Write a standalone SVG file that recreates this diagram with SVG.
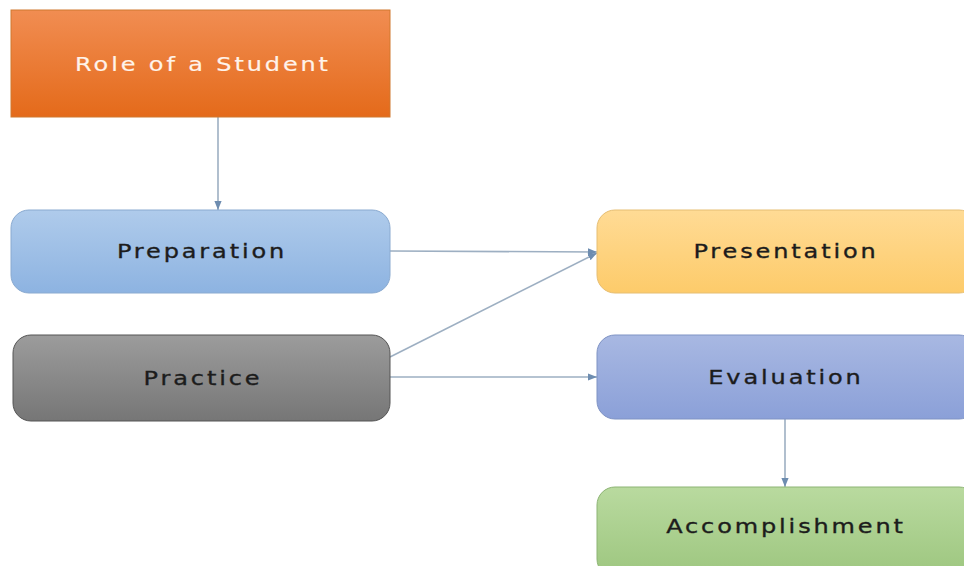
<svg xmlns="http://www.w3.org/2000/svg" width="964" height="566" viewBox="0 0 964 566">
<defs>
<linearGradient id="gOrange" x1="0" y1="0" x2="0" y2="1"><stop offset="0" stop-color="#F18D52"/><stop offset="1" stop-color="#E46A1A"/></linearGradient>
<linearGradient id="gBlue" x1="0" y1="0" x2="0" y2="1"><stop offset="0" stop-color="#AFCBEB"/><stop offset="1" stop-color="#8DB3E1"/></linearGradient>
<linearGradient id="gGray" x1="0" y1="0" x2="0" y2="1"><stop offset="0" stop-color="#9C9C9C"/><stop offset="1" stop-color="#767676"/></linearGradient>
<linearGradient id="gYellow" x1="0" y1="0" x2="0" y2="1"><stop offset="0" stop-color="#FFDB95"/><stop offset="1" stop-color="#FDCB6A"/></linearGradient>
<linearGradient id="gPurple" x1="0" y1="0" x2="0" y2="1"><stop offset="0" stop-color="#A8B8E2"/><stop offset="1" stop-color="#8BA0D8"/></linearGradient>
<linearGradient id="gGreen" x1="0" y1="0" x2="0" y2="1"><stop offset="0" stop-color="#B9DA9F"/><stop offset="1" stop-color="#9DC67F"/></linearGradient>
<marker id="arr" viewBox="0 0 10 10" refX="10" refY="5" markerWidth="9" markerHeight="9" markerUnits="userSpaceOnUse" orient="auto">
<path d="M0,1 L10,5 L0,9 z" fill="#6E8DB0"/>
</marker>
</defs>
<style>
.lbl{font-family:"DejaVu Sans",Verdana,sans-serif;font-size:20px;letter-spacing:2.4px;text-anchor:middle;dominant-baseline:central;fill:#1c1c1c;stroke:#1c1c1c;stroke-width:0.35}
.box{stroke-width:1}
.conn{fill:none;stroke:#9DAFC2;stroke-width:1.6}
</style>
<rect width="964" height="566" fill="#ffffff"/>
<g id="connectors">
<line class="conn" x1="218" y1="117" x2="218" y2="210" marker-end="url(#arr)"/>
<line class="conn" x1="390" y1="251" x2="597" y2="252" marker-end="url(#arr)"/>
<line class="conn" x1="390" y1="357" x2="597" y2="253" marker-end="url(#arr)"/>
<line class="conn" x1="390" y1="377" x2="597" y2="377" marker-end="url(#arr)"/>
<line class="conn" x1="785" y1="419" x2="785" y2="487" marker-end="url(#arr)"/>
</g>
<g id="role">
<rect class="box" x="11" y="10" width="379" height="107" fill="url(#gOrange)" stroke="#D0782F"/>
<text class="lbl" transform="translate(203,64) scale(1.2,1)" style="fill:#FFF3EA;stroke:#FFF3EA;stroke-width:0.2">Role of a Student</text>
</g>
<g id="preparation">
<rect class="box" x="11" y="210" width="379" height="83" rx="18" fill="url(#gBlue)" stroke="#8AAAD0"/>
<text class="lbl" transform="translate(202,251) scale(1.2,1)">Preparation</text>
</g>
<g id="practice">
<rect class="box" x="13" y="335" width="377" height="86" rx="18" fill="url(#gGray)" stroke="#555555"/>
<text class="lbl" transform="translate(203,378) scale(1.2,1)">Practice</text>
</g>
<g id="presentation">
<rect class="box" x="597" y="210" width="380" height="83" rx="18" fill="url(#gYellow)" stroke="#E6BE73"/>
<text class="lbl" transform="translate(786,251) scale(1.2,1)">Presentation</text>
</g>
<g id="evaluation">
<rect class="box" x="597" y="335" width="380" height="84" rx="18" fill="url(#gPurple)" stroke="#7F93C4"/>
<text class="lbl" transform="translate(786,377) scale(1.2,1)">Evaluation</text>
</g>
<g id="accomplishment">
<rect class="box" x="597" y="487" width="380" height="90" rx="18" fill="url(#gGreen)" stroke="#8DB474"/>
<text class="lbl" transform="translate(786,526) scale(1.2,1)">Accomplishment</text>
</g>
</svg>
